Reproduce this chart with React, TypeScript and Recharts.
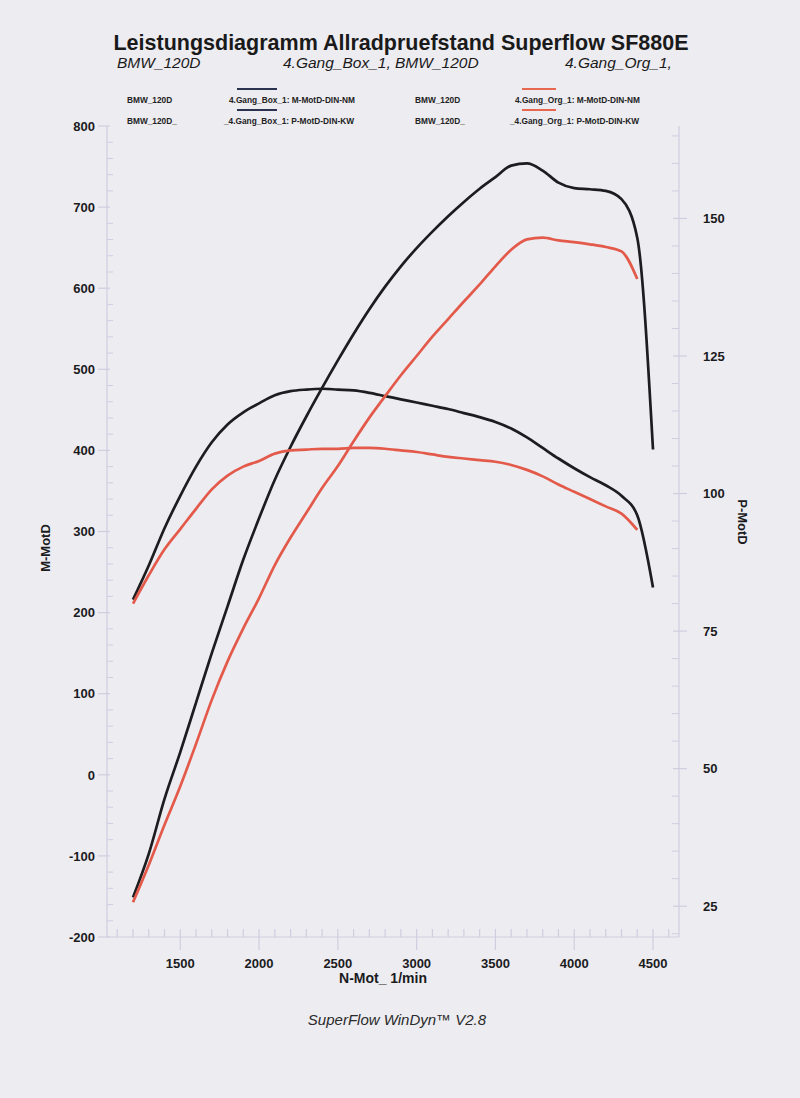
import React from "react";
import { LineChart, Line, XAxis, YAxis } from "recharts";

// Drehzahl (1/min)
const RPM = [
  1200, 1300, 1400, 1500, 1600, 1700, 1800, 1900, 2000, 2100, 2200, 2300,
  2400, 2500, 2600, 2700, 2800, 2900, 3000, 3100, 3200, 3300, 3400, 3500,
  3600, 3700, 3800, 3900, 4000, 4100, 4200, 4300, 4400, 4500,
];

// 4.Gang_Box_1 (schwarz)
const BOX_TORQUE = [
  216, 258, 304, 344, 380, 410, 432, 447, 458, 468, 473, 475,
  476, 475, 474, 471, 467, 463, 459, 455, 451, 446, 441, 435,
  427, 416, 403, 390, 378, 367, 357, 344, 320, 231,
];
const BOX_POWER = [
  26.6, 34.5, 44.5, 53, 62, 71, 79.5, 88, 95.5, 102.5, 108.5, 114,
  119.2, 124.2, 129, 133.5, 137.6, 141.3, 144.6, 147.6, 150.4, 153, 155.4, 157.5,
  159.6, 160, 158.7, 156.5, 155.5, 155.3, 155, 153.5, 146.5, 108,
];

// 4.Gang_Org_1 (rot)
const ORG_TORQUE = [
  211, 246, 278, 303, 328, 352, 369, 380, 387, 396, 400, 401,
  402, 402, 403, 403, 402, 400, 398, 395, 392, 390, 388, 386,
  382, 376, 368, 358, 349, 340, 331, 322, 302,
];
const ORG_POWER = [
  25.7, 32.5, 39.8, 46.8, 54.5, 62.5, 69.5, 75.5, 81, 87, 92, 96.5,
  101, 105, 109.5, 113.8, 117.7, 121.5, 125, 128.5, 131.7, 134.9, 138, 141.3,
  144.3, 146.2, 146.5, 146, 145.7, 145.3, 144.8, 144, 139,
];

const X_TICKS = [1500, 2000, 2500, 3000, 3500, 4000, 4500];
const M_TICKS = [-200, -100, 0, 100, 200, 300, 400, 500, 600, 700, 800];
const P_TICKS = [25, 50, 75, 100, 125, 150];

const range = (from: number, to: number, step: number) => {
  const out: number[] = [];
  for (let v = from; v <= to + 1e-9; v += step) out.push(Math.round(v * 10) / 10);
  return out;
};
const X_ALL = range(1100, 4600, 100);
const M_ALL = range(-200, 800, 20);
const P_ALL = range(20, 165, 5);

const data = RPM.map((rpm, i) => ({
  rpm,
  boxT: BOX_TORQUE[i],
  boxP: BOX_POWER[i],
  orgT: ORG_TORQUE[i],
  orgP: ORG_POWER[i],
}));

const AXIS = "#cfcee0";
const INK = "#1b1b1d";
const BLACK = "#1d1d20";
const RED = "#e35a4b";
const FONT = "'Liberation Sans', Arial, sans-serif";

const XTick = (props: any) => {
  const { x, y, payload } = props;
  const major = X_TICKS.includes(payload.value);
  return (
    <g>
      <line x1={x} x2={x} y1={y - 8} y2={major ? y + 13 : y} stroke={AXIS} strokeWidth={1.2} />
      {major && (
        <text x={x} y={y + 31} textAnchor="middle" fontFamily={FONT} fontWeight="bold" fontSize={13} fill={INK}>
          {payload.value}
        </text>
      )}
    </g>
  );
};

const MTick = (props: any) => {
  const { x, y, payload } = props;
  const major = M_TICKS.includes(payload.value);
  return (
    <g>
      {major ? (
        <line x1={x - 9} x2={x + 3} y1={y} y2={y} stroke={AXIS} strokeWidth={1.2} />
      ) : (
        <line x1={x} x2={x + 6} y1={y} y2={y} stroke={AXIS} strokeWidth={1} />
      )}
      {major && (
        <text x={x - 12} y={y + 4.7} textAnchor="end" fontFamily={FONT} fontWeight="bold" fontSize={13} fill={INK}>
          {payload.value}
        </text>
      )}
    </g>
  );
};

const PTick = (props: any) => {
  const { x, y, payload } = props;
  const major = P_TICKS.includes(payload.value);
  return (
    <g>
      {major ? (
        <line x1={x - 6} x2={x + 8} y1={y} y2={y} stroke={AXIS} strokeWidth={1.2} />
      ) : (
        <line x1={x - 7} x2={x} y1={y} y2={y} stroke={AXIS} strokeWidth={1} />
      )}
      {major && (
        <text x={x + 24} y={y + 4.7} textAnchor="start" fontFamily={FONT} fontWeight="bold" fontSize={13} fill={INK}>
          {payload.value}
        </text>
      )}
    </g>
  );
};

const legendText = { fontFamily: FONT, fontWeight: "bold" as const, fontSize: 8.3, fill: "#222" };

export default function App() {
  return (
    <div style={{ position: "absolute", left: 0, top: 0, width: 800, height: 1098, background: "#edecf1", overflow: "hidden" }}>
      <LineChart width={800} height={1098} data={data} margin={{ top: 126, right: 0, bottom: 0, left: 0 }}>
        <XAxis
          dataKey="rpm"
          type="number"
          domain={[1035, 4665]}
          allowDataOverflow
          ticks={X_ALL}
          interval={0}
          height={161}
          tickSize={0}
          tickMargin={0}
          tickLine={false}
          axisLine={{ stroke: AXIS, strokeWidth: 1.2 }}
          tick={<XTick />}
        />
        <YAxis
          yAxisId="m"
          orientation="left"
          type="number"
          domain={[-200, 800]}
          allowDataOverflow
          ticks={M_ALL}
          interval={0}
          width={107}
          tickSize={0}
          tickMargin={0}
          tickLine={false}
          axisLine={{ stroke: AXIS, strokeWidth: 1.2 }}
          tick={<MTick />}
        />
        <YAxis
          yAxisId="p"
          orientation="right"
          type="number"
          domain={[19.4, 166.8]}
          allowDataOverflow
          ticks={P_ALL}
          interval={0}
          width={121}
          tickSize={0}
          tickMargin={0}
          tickLine={false}
          axisLine={{ stroke: AXIS, strokeWidth: 1.2 }}
          tick={<PTick />}
        />
        <Line yAxisId="m" dataKey="boxT" type="monotone" stroke={BLACK} strokeWidth={2.7} dot={false} isAnimationActive={false} />
        <Line yAxisId="p" dataKey="boxP" type="monotone" stroke={BLACK} strokeWidth={2.7} dot={false} isAnimationActive={false} />
        <Line yAxisId="m" dataKey="orgT" type="monotone" stroke={RED} strokeWidth={2.7} dot={false} isAnimationActive={false} />
        <Line yAxisId="p" dataKey="orgP" type="monotone" stroke={RED} strokeWidth={2.7} dot={false} isAnimationActive={false} />
      </LineChart>

      <svg width={800} height={1098} style={{ position: "absolute", left: 0, top: 0, pointerEvents: "none" }}>
        <text x={401} y={50} textAnchor="middle" fontFamily={FONT} fontWeight="bold" fontSize={21.5} fill="#1a1a1a">
          Leistungsdiagramm Allradpruefstand Superflow SF880E
        </text>
        <g fontFamily={FONT} fontStyle="italic" fontSize={15.5} fill="#1a1a1a">
          <text x={117} y={67.5}>BMW_120D</text>
          <text x={283} y={67.5}>4.Gang_Box_1, BMW_120D</text>
          <text x={565} y={67.5}>4.Gang_Org_1,</text>
        </g>

        <line x1={237} x2={277} y1={89} y2={89} stroke="#2c3350" strokeWidth={2} />
        <line x1={237} x2={277} y1={110} y2={110} stroke="#2c3350" strokeWidth={2} />
        <line x1={522} x2={556} y1={89} y2={89} stroke="#e8684f" strokeWidth={2} />
        <line x1={522} x2={556} y1={110} y2={110} stroke="#e8684f" strokeWidth={2} />
        <text x={127} y={103} {...legendText}>BMW_120D</text>
        <text x={229} y={103} {...legendText}>4.Gang_Box_1: M-MotD-DIN-NM</text>
        <text x={415} y={103} {...legendText}>BMW_120D</text>
        <text x={515} y={103} {...legendText}>4.Gang_Org_1: M-MotD-DIN-NM</text>
        <text x={127} y={124} {...legendText}>BMW_120D_</text>
        <text x={224} y={124} {...legendText}>_4.Gang_Box_1: P-MotD-DIN-KW</text>
        <text x={415} y={124} {...legendText}>BMW_120D_</text>
        <text x={510} y={124} {...legendText}>_4.Gang_Org_1: P-MotD-DIN-KW</text>

        <text x={383} y={983} textAnchor="middle" fontFamily={FONT} fontWeight="bold" fontSize={14} fill={INK}>
          N-Mot_ 1/min
        </text>
        <text transform="translate(50,548) rotate(-90)" textAnchor="middle" fontFamily={FONT} fontWeight="bold" fontSize={13} fill={INK}>
          M-MotD
        </text>
        <text transform="translate(738,522) rotate(90)" textAnchor="middle" fontFamily={FONT} fontWeight="bold" fontSize={13} fill={INK}>
          P-MotD
        </text>

        <text x={397} y={1025} textAnchor="middle" fontFamily={FONT} fontStyle="italic" fontSize={15} fill="#2a2a2a">
          SuperFlow WinDyn™ V2.8
        </text>
      </svg>
    </div>
  );
}
